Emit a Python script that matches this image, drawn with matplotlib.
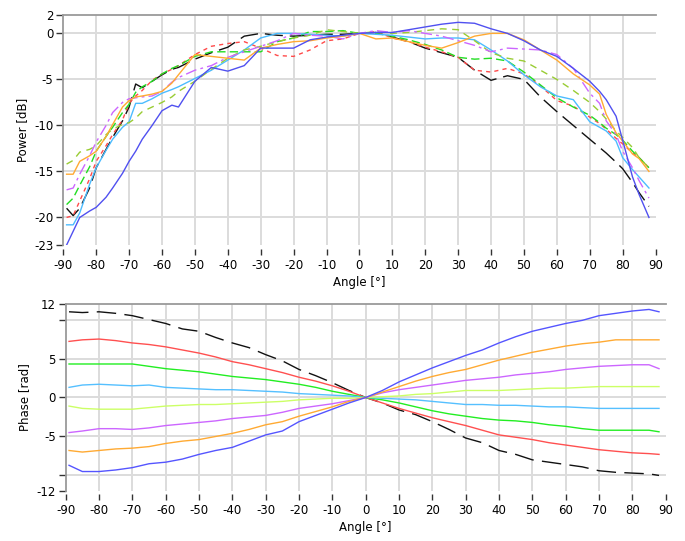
"""
Antenna pattern figure: power (dB) and phase (rad) versus angle for eight
element channels.
"""

import matplotlib

matplotlib.use("Agg")
import matplotlib.pyplot as plt

# ---------------------------------------------------------------- data
power_angles = [-89, -87, -85, -82, -80, -77, -75, -72, -70, -68, -66, -63,
                -60, -57, -55, -50, -45, -40, -35, -30, -25, -20, -15, -10,
                -5, 0, 5, 10, 15, 20, 25, 30, 35, 40, 45, 50, 55, 60, 65, 70,
                73, 75, 78, 80, 83, 85, 88]

power_black = [-19.0, -19.8, -19.0, -16.8, -14.6, -12.6, -11.3, -9.5, -8.0, -5.5, -5.9, -5.2,
               -4.5, -3.9, -3.7, -2.8, -2.1, -1.5, -0.3, 0.0, -0.2, -0.3, -0.2, -0.1,
               -0.1, 0.0, 0.1, -0.4, -0.9, -1.6, -2.1, -2.6, -4.0, -5.1, -4.6, -5.0, -6.9, -8.5, -10.0, -11.5,
               -12.4, -13.0, -14.0, -14.7, -16.2, -17.3, -18.8]
power_red = [-20.0, -19.8, -18.2, -15.8, -13.9, -12.2, -11.0, -9.4, -7.6, -6.8, -6.2, -5.1,
             -4.4, -3.9, -3.5, -2.3, -1.4, -1.1, -0.9, -1.6, -2.4, -2.5, -1.8, -0.8,
             -0.6, 0.0, 0.2, -0.5, -0.9, -1.5, -2.0, -2.6, -4.0, -4.2, -3.8, -4.4, -5.7, -7.3, -7.9, -9.1,
             -9.8, -10.4, -11.4, -12.0, -13.0, -13.5, -14.6]
power_green = [-18.6, -17.9, -16.5, -14.5, -12.8, -11.2, -10.2, -8.6, -7.7, -6.4, -5.8, -5.2,
               -4.4, -3.8, -3.5, -2.5, -2.0, -2.0, -2.0, -2.0, -0.9, -0.5, 0.2, 0.2,
               0.3, 0.0, 0.0, -0.3, -0.7, -1.2, -1.8, -2.6, -2.8, -2.7, -3.0, -4.2, -5.6, -7.0, -8.0, -8.9,
               -9.7, -10.3, -11.0, -11.6, -12.8, -13.5, -14.6]
power_cyan = [-20.8, -20.8, -19.5, -16.4, -14.6, -12.7, -11.5, -10.2, -9.6, -7.6, -7.6, -7.1,
              -6.5, -6.1, -5.8, -4.9, -4.0, -2.9, -1.8, -0.5, 0.0, 0.0, -0.1, -0.2,
              -0.3, 0.0, -0.1, -0.2, -0.4, -0.6, -0.5, -0.5, -0.7, -1.8, -3.0, -4.5, -5.8, -6.8, -7.2, -9.6,
              -10.2, -10.6, -11.7, -13.5, -14.8, -15.6, -16.8]
power_olive = [-14.2, -13.8, -12.9, -12.6, -12.2, -11.0, -10.4, -9.9, -9.7, -9.2, -8.5, -8.0,
               -7.5, -6.9, -6.3, -5.2, -3.9, -2.7, -1.8, -1.4, -0.9, -0.5, -0.2, 0.4,
               0.2, 0.0, 0.2, 0.0, 0.1, 0.3, 0.5, 0.4, -0.8, -2.1, -2.7, -3.0, -4.0, -5.0, -6.2, -7.5,
               -8.5, -9.3, -10.6, -11.3, -12.4, -13.5, -14.6]
power_magenta = [-17.0, -16.8, -15.3, -13.3, -11.8, -10.0, -8.6, -7.5, -7.1, -7.0, -6.9, -6.8,
                 -6.3, -5.3, -4.8, -4.0, -3.5, -2.6, -2.0, -1.4, -0.8, 0.0, -0.2, -0.3,
                 -0.6, 0.0, 0.3, 0.1, 0.3, 0.0, -0.3, -0.8, -1.3, -2.0, -1.6, -1.7, -1.8, -2.3, -3.8, -6.5,
                 -7.6, -9.5, -11.0, -12.8, -14.6, -16.0, -17.9]
power_orange = [-15.3, -15.3, -13.9, -13.3, -12.8, -11.2, -9.9, -8.0, -7.3, -6.9, -6.8, -6.6,
                -6.3, -5.4, -4.5, -2.3, -2.5, -2.7, -2.9, -1.6, -1.2, -0.9, -0.8, -0.5,
                -0.3, 0.0, -0.6, -0.5, -0.9, -1.3, -1.6, -1.0, -0.3, 0.0, 0.0, -0.7, -1.8, -2.9, -4.4, -5.6,
                -6.6, -8.8, -10.8, -11.7, -13.1, -13.6, -15.0]
power_blue = [-23.0, -21.5, -20.0, -19.3, -18.9, -17.8, -16.8, -15.2, -13.9, -12.8, -11.5, -10.0,
              -8.4, -7.8, -8.0, -5.2, -3.7, -4.1, -3.5, -1.6, -1.6, -1.6, -0.7, -0.4,
              -0.2, 0.0, 0.1, 0.1, 0.4, 0.7, 1.0, 1.2, 1.1, 0.5, 0.0, -0.8, -1.8, -2.5, -3.8, -5.2,
              -6.3, -7.2, -9.0, -11.6, -15.6, -17.5, -20.0]

phase_angles = [-89, -85, -80, -75, -70, -65, -60, -55, -50, -45, -40, -35, -30,
                -25, -20, -15, -10, -5, 0, 5, 10, 15, 20, 25, 30, 35, 40, 45,
                50, 55, 60, 65, 70, 75, 80, 85, 88]

phase_black = [11.0, 10.9, 11.0, 10.8, 10.5, 10.0, 9.5, 8.8, 8.5, 7.7, 7.0, 6.4, 5.5,
               4.7, 3.6, 2.8, 1.9, 0.9, 0.0, -0.7, -1.6, -2.2, -3.1, -4.1, -5.2, -5.8, -6.8, -7.3,
               -8.0, -8.3, -8.6, -8.9, -9.4, -9.6, -9.7, -9.8, -10.0]
phase_red = [7.2, 7.4, 7.5, 7.3, 7.0, 6.8, 6.5, 6.1, 5.7, 5.2, 4.6, 4.2, 3.7,
             3.2, 2.6, 2.1, 1.5, 0.8, 0.0, -0.7, -1.4, -2.0, -2.6, -3.1, -3.6, -4.2, -4.8, -5.1,
             -5.4, -5.8, -6.1, -6.4, -6.7, -6.9, -7.1, -7.2, -7.3]
phase_green = [4.3, 4.3, 4.3, 4.3, 4.3, 4.0, 3.7, 3.5, 3.3, 3.0, 2.7, 2.5, 2.3,
               2.0, 1.7, 1.3, 0.8, 0.4, 0.0, -0.3, -0.7, -1.2, -1.7, -2.1, -2.4, -2.7, -2.9, -3.0,
               -3.2, -3.5, -3.7, -4.0, -4.2, -4.2, -4.2, -4.2, -4.4]
phase_cyan = [1.3, 1.6, 1.7, 1.6, 1.5, 1.6, 1.3, 1.2, 1.1, 1.0, 1.0, 0.9, 0.8,
              0.7, 0.5, 0.4, 0.3, 0.2, 0.0, -0.1, -0.2, -0.3, -0.5, -0.7, -0.9, -0.9, -1.0, -1.0,
              -1.1, -1.2, -1.2, -1.3, -1.4, -1.4, -1.4, -1.4, -1.4]
phase_lime = [-1.1, -1.4, -1.5, -1.5, -1.5, -1.3, -1.1, -1.0, -0.9, -0.9, -0.8, -0.7, -0.6,
              -0.5, -0.3, -0.2, -0.1, -0.1, 0.0, 0.1, 0.2, 0.4, 0.5, 0.7, 0.9, 0.9, 0.9, 1.0,
              1.1, 1.2, 1.2, 1.3, 1.4, 1.4, 1.4, 1.4, 1.4]
phase_magenta = [-4.5, -4.3, -4.0, -4.0, -4.1, -3.9, -3.6, -3.4, -3.2, -3.0, -2.7, -2.5, -2.3,
                 -1.9, -1.4, -1.1, -0.8, -0.4, 0.0, 0.6, 1.0, 1.3, 1.6, 1.9, 2.2, 2.4, 2.6, 2.9,
                 3.1, 3.3, 3.6, 3.8, 4.0, 4.1, 4.2, 4.2, 3.7]
phase_orange = [-6.8, -7.0, -6.8, -6.6, -6.5, -6.3, -5.9, -5.6, -5.4, -5.0, -4.6, -4.1, -3.5,
                -3.1, -2.4, -1.8, -1.2, -0.5, 0.0, 0.7, 1.4, 2.1, 2.7, 3.2, 3.6, 4.2, 4.8, 5.3,
                5.8, 6.2, 6.6, 6.9, 7.1, 7.4, 7.4, 7.4, 7.4]
phase_blue = [-8.7, -9.5, -9.5, -9.3, -9.0, -8.5, -8.3, -7.9, -7.3, -6.8, -6.4, -5.6, -4.8,
              -4.3, -3.1, -2.3, -1.5, -0.7, 0.0, 0.9, 2.0, 2.9, 3.8, 4.6, 5.4, 6.1, 7.0, 7.8,
              8.5, 9.0, 9.5, 9.9, 10.5, 10.8, 11.1, 11.3, 11.0]

angle_ticks = list(range(-90, 91, 10))
power_ticks = [2, 0, -5, -10, -15, -20, -23]
power_tick_labels = ["2", "0", "-5", "-10", "-15", "-20", "-23"]
phase_ticks = [12, 10, 5, 0, -5, -10, -12]
phase_tick_labels = ["12", "", "5", "0", "-5", "", "-12"]

# ---------------------------------------------------------------- style
plt.rcParams["font.family"] = "DejaVu Sans"
plt.rcParams["font.size"] = 8.5
plt.rcParams["axes.unicode_minus"] = False

GRID = "#dcdcdc"
FRAME = "#9a9a9a"


def style_axes(ax, yticks, ylabels, ylim, outward):
    ax.set_xlim(-90, 90)
    ax.set_ylim(*ylim)
    ax.set_xticks(angle_ticks)
    ax.set_xticklabels([str(t) for t in angle_ticks])
    ax.set_yticks(yticks)
    ax.set_yticklabels(ylabels)

    # light grid on inner ticks only
    for t in angle_ticks[1:-1]:
        ax.axvline(t, color=GRID, lw=1.4, zorder=0)
    for t in yticks:
        if ylim[0] < t < ylim[1]:
            ax.axhline(t, color=GRID, lw=1.4, zorder=0)

    for side in ("right", "bottom"):
        ax.spines[side].set_visible(False)
    for side in ("top", "left"):
        ax.spines[side].set_color(FRAME)
        ax.spines[side].set_linewidth(1.3)
    ax.spines["bottom"].set_position(("outward", outward))

    ax.tick_params(axis="x", length=4, width=1, color="#333333", pad=3)
    ax.tick_params(axis="y", length=5, width=1, color="#333333", pad=2)
    ax.set_xlabel("Angle [°]", labelpad=3)


fig = plt.figure(figsize=(6.85, 5.41), dpi=100)
ax1 = fig.add_axes([0.0924, 0.547, 0.8646, 0.4253])
ax2 = fig.add_axes([0.0959, 0.0924, 0.8759, 0.3457])

# power curves
ax1.plot(power_angles, power_black, color="#111111", lw=1.0, ls=(0, (13, 5)))
ax1.plot(power_angles, power_red, color="#ff4a4a", lw=1.0, ls=(0, (3, 3)))
ax1.plot(power_angles, power_green, color="#22dd22", lw=1.0, ls=(0, (6, 3)))
ax1.plot(power_angles, power_cyan, color="#4cbcff", lw=1.0)
ax1.plot(power_angles, power_olive, color="#99cc33", lw=1.0, ls=(0, (5, 4)))
ax1.plot(power_angles, power_magenta, color="#cc66ff", lw=1.0, ls=(0, (8, 3, 2, 3)))
ax1.plot(power_angles, power_orange, color="#ffaa33", lw=1.0)
ax1.plot(power_angles, power_blue, color="#5050f0", lw=1.0)
style_axes(ax1, power_ticks, power_tick_labels, (-23, 2), 3)
ax1.set_ylabel("Power [dB]", labelpad=4)

# phase curves
ax2.plot(phase_angles, phase_black, color="#111111", lw=1.0, ls=(0, (14, 6)))
ax2.plot(phase_angles, phase_red, color="#ff5050", lw=1.0)
ax2.plot(phase_angles, phase_green, color="#22ee22", lw=1.0)
ax2.plot(phase_angles, phase_cyan, color="#55c0ff", lw=1.0)
ax2.plot(phase_angles, phase_lime, color="#ccff66", lw=1.0)
ax2.plot(phase_angles, phase_magenta, color="#cc66ff", lw=1.0)
ax2.plot(phase_angles, phase_orange, color="#ffaa33", lw=1.0)
ax2.plot(phase_angles, phase_blue, color="#5555ff", lw=1.0)
style_axes(ax2, phase_ticks, phase_tick_labels, (-12, 12), 2)
ax2.set_ylabel("Phase [rad]", labelpad=4)

fig.savefig("out.png", dpi=100)
plt.close(fig)
